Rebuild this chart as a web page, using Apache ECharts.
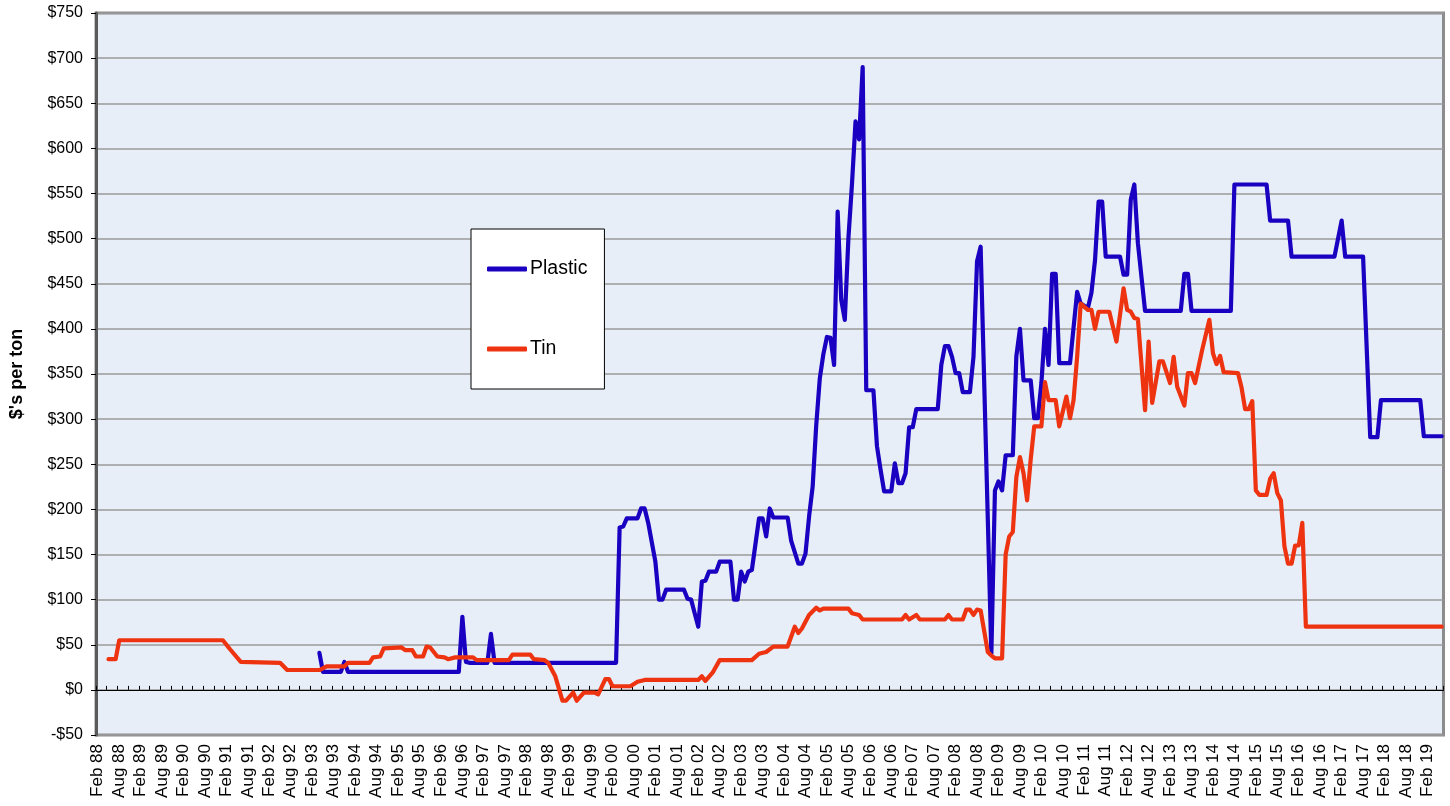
<!DOCTYPE html>
<html>
<head>
<meta charset="utf-8">
<title>Plastic vs Tin</title>
<script src="https://cdn.jsdelivr.net/npm/echarts@6/dist/echarts.min.js"></script>
<style>
  html, body { margin: 0; padding: 0; background: #ffffff; }
  #chart { width: 1450px; height: 806px; }
</style>
</head>
<body>
<div id="chart"></div>
<script>
// months run from Feb 88 to Jun 19; points are given as (months since Feb 88, $ per ton)
const MONTH_COUNT = 377;
const monthNames = ['Jan', 'Feb', 'Mar', 'Apr', 'May', 'Jun', 'Jul', 'Aug', 'Sep', 'Oct', 'Nov', 'Dec'];
const months = [];
for (let k = 0; k < MONTH_COUNT; k++) {
    const t = k + 1;
    const yr = (88 + Math.floor(t / 12)) % 100;
    months.push(monthNames[t % 12] + ' ' + String(yr).padStart(2, '0'));
}

const yTicks = [-50, 0, 50, 100, 150, 200, 250, 300, 350, 400, 450, 500, 550, 600, 650, 700, 750];

const plasticAt = [62, 63, 68, 69, 70, 101, 102, 103, 104, 109, 110, 111, 145, 146, 147, 148, 151, 152, 153, 154,
    156, 157, 158, 159, 164, 165, 166, 167, 168, 169, 170, 171, 173, 174, 177, 178, 179, 180, 181, 182,
    183, 185, 186, 187, 188, 189, 193, 194, 196, 197, 198, 199, 200, 201, 202, 203, 204, 205, 206, 207,
    208, 209, 210, 211, 212, 213, 214, 215, 217, 218, 219, 220, 222, 223, 224, 225, 226, 227, 228, 229,
    235, 236, 237, 238, 239, 240, 241, 242, 244, 245, 246, 247, 250, 251, 252, 253, 254, 256, 257, 258,
    259, 261, 262, 263, 264, 265, 266, 267, 268, 269, 272, 274, 275, 277, 278, 279, 280, 281, 282, 286,
    287, 288, 289, 290, 291, 293, 303, 304, 305, 306, 317, 318, 327, 328, 333, 334, 346, 348, 349, 354,
    356, 358, 359, 370, 371, 376];
const plasticVal = [41, 20, 20, 31, 20, 20, 81, 31, 30, 30, 62, 30, 30, 180, 181, 190, 190, 201, 201, 185,
    142, 100, 100, 111, 111, 101, 100, 85, 70, 120, 121, 131, 131, 142, 142, 100, 100, 131, 120, 131,
    133, 190, 190, 170, 201, 191, 191, 165, 140, 140, 151, 192, 225, 293, 345, 372, 391, 390, 360, 530,
    432, 410, 500, 560, 630, 610, 690, 332, 332, 270, 244, 220, 220, 251, 229, 229, 240, 291, 291, 311,
    311, 360, 381, 381, 369, 351, 351, 330, 330, 369, 475, 491, 40, 221, 231, 221, 260, 260, 370, 400,
    343, 343, 301, 301, 340, 400, 360, 461, 461, 362, 362, 441, 428, 423, 440, 476, 541, 541, 480, 480,
    460, 460, 543, 560, 495, 420, 420, 461, 461, 420, 420, 560, 560, 520, 520, 480, 480, 520, 480, 480,
    280, 280, 321, 321, 281, 281];

const tinAt = [3, 5, 6, 35, 37, 40, 51, 53, 62, 64, 69, 70, 76, 77, 79, 80, 85, 86, 88, 89,
    91, 92, 93, 95, 97, 98, 100, 105, 106, 115, 116, 121, 122, 125, 126, 128, 130, 131, 133, 134,
    136, 139, 140, 142, 143, 144, 149, 151, 153, 168, 169, 170, 172, 174, 183, 185, 187, 189, 193, 195,
    196, 197, 199, 201, 202, 203, 210, 211, 213, 214, 225, 226, 227, 229, 230, 237, 238, 239, 242, 243,
    244, 245, 246, 247, 249, 250, 251, 253, 254, 255, 256, 257, 258, 259, 260, 261, 262, 264, 265, 266,
    268, 269, 271, 272, 273, 274, 275, 277, 278, 279, 280, 283, 285, 287, 288, 289, 290, 291, 293, 294,
    295, 297, 298, 300, 301, 302, 304, 305, 306, 307, 309, 311, 312, 313, 314, 315, 319, 320, 321, 322,
    323, 324, 325, 327, 328, 329, 330, 331, 332, 333, 334, 335, 336, 337, 338, 376];
const tinVal = [34, 34, 55, 55, 45, 31, 30, 22, 22, 26, 26, 30, 30, 36, 37, 46, 47, 44, 44, 37,
    37, 48, 47, 37, 36, 34, 36, 36, 33, 33, 39, 39, 34, 33, 30, 15, -12, -12, -3, -12,
    -3, -3, -5, 12, 12, 4, 4, 9, 11, 11, 15, 10, 19, 33, 33, 40, 42, 48, 48, 70,
    63, 68, 83, 91, 88, 90, 90, 85, 83, 78, 78, 83, 78, 83, 78, 78, 83, 78, 78, 89,
    89, 83, 89, 88, 42, 38, 35, 35, 150, 170, 175, 236, 258, 240, 210, 255, 292, 292, 341, 321,
    321, 292, 325, 301, 321, 369, 428, 421, 421, 400, 419, 419, 386, 445, 421, 419, 412, 411, 310, 386,
    318, 364, 364, 340, 369, 336, 315, 351, 351, 340, 377, 410, 373, 361, 370, 352, 351, 335, 311, 311,
    320, 221, 216, 216, 234, 240, 218, 210, 159, 140, 140, 160, 160, 185, 70, 70];

const FONT = '"Liberation Sans", Arial, sans-serif';

function pairs(at, val) {
    return at.map((m, k) => [m, val[k]]);
}

const chart = echarts.init(document.getElementById('chart'), null, { renderer: 'canvas' });

const option = {
    animation: false,
    backgroundColor: '#ffffff',
    textStyle: { fontFamily: FONT, color: '#000' },
    grid: {
        left: 93, top: 13, width: 1350.5, height: 722,
        show: true,
        backgroundColor: '#e8eef8',
        borderColor: '#8c8c8c',
        borderWidth: 3
    },
    legend: {
        data: ['Plastic', 'Tin'],
        orient: 'vertical',
        left: 471,
        top: 229,
        padding: [30, 17, 30, 16],
        itemGap: 60,
        itemWidth: 40,
        itemHeight: 5,
        icon: 'roundRect',
        backgroundColor: '#ffffff',
        borderColor: '#000000',
        borderWidth: 1,
        textStyle: { fontSize: 19.5, color: '#000', fontFamily: FONT, padding: [0, 0, 0, -2] }
    },
    xAxis: [
        {
            type: 'category',
            data: months,
            boundaryGap: true,
            position: 'bottom',
            axisLine: { show: false, onZero: false },
            axisTick: { show: false },
            splitLine: { show: false },
            axisLabel: {
                interval: 5,
                rotate: 90,
                fontSize: 17,
                color: '#000',
                fontFamily: FONT,
                margin: 9
            }
        },
        {
            type: 'category',
            data: months,
            boundaryGap: true,
            position: 'bottom',
            axisLine: { show: true, onZero: true, lineStyle: { color: '#000', width: 1 } },
            axisTick: { show: true, interval: 2, inside: true, length: 4, lineStyle: { color: '#000', width: 1 } },
            axisLabel: { show: false },
            splitLine: { show: false }
        }
    ],
    yAxis: {
        type: 'value',
        min: yTicks[0],
        max: yTicks[yTicks.length - 1],
        interval: 50,
        name: "$'s per ton",
        nameLocation: 'middle',
        nameRotate: 90,
        nameGap: 70,
        nameTextStyle: { fontSize: 18, fontWeight: 'bold', color: '#000', fontFamily: FONT },
        axisLine: { show: true, lineStyle: { color: '#5a5a5a', width: 3 } },
        axisTick: { show: true, length: 5, lineStyle: { color: '#000', width: 1 } },
        axisLabel: {
            fontSize: 16,
            color: '#000',
            fontFamily: FONT,
            margin: 13,
            formatter: v => (v < 0 ? '-$' + (-v) : '$' + v)
        },
        splitLine: { show: true, lineStyle: { color: '#9a9a9a', width: 1.5 } }
    },
    series: [
        {
            name: 'Plastic',
            type: 'line',
            xAxisIndex: 0,
            data: pairs(plasticAt, plasticVal),
            symbol: 'none',
            color: '#1a00c0',
            lineStyle: { width: 4.2, color: '#1a00c0', cap: 'round', join: 'round' }
        },
        {
            name: 'Tin',
            type: 'line',
            xAxisIndex: 0,
            data: pairs(tinAt, tinVal),
            symbol: 'none',
            color: '#ee3311',
            lineStyle: { width: 4.2, color: '#ee3311', cap: 'round', join: 'round' }
        }
    ]
};

chart.setOption(option);
</script>
</body>
</html>
